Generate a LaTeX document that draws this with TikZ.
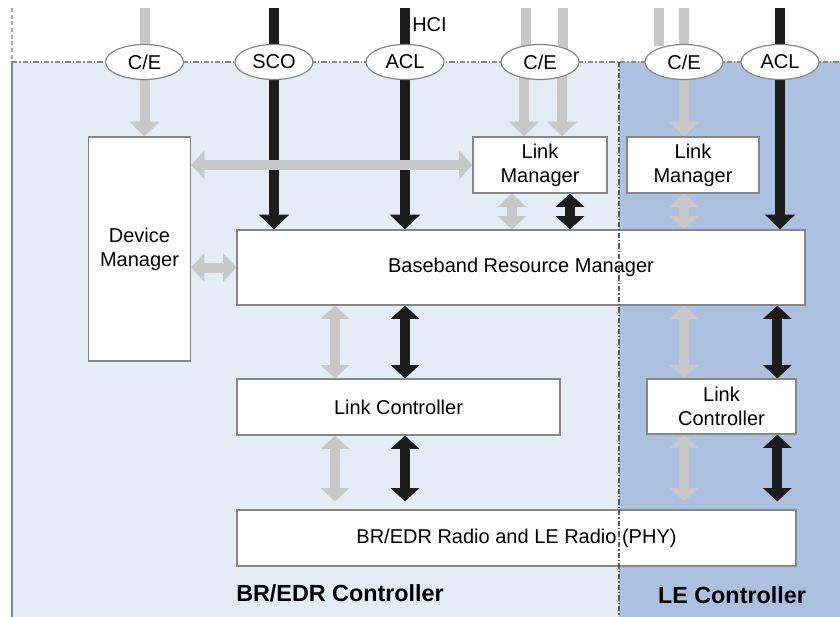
\documentclass[tikz,border=0pt]{standalone}
\usepackage{fontspec}
\setmainfont{Liberation Sans}
\usetikzlibrary{arrows.meta,shapes.geometric}
\definecolor{brfill}{RGB}{229,236,246}
\definecolor{lefill}{RGB}{172,192,224}
\definecolor{flowgray}{RGB}{200,200,200}
\definecolor{flowblack}{RGB}{28,28,28}
\definecolor{edgegray}{RGB}{135,135,135}
\definecolor{divgray}{RGB}{90,90,90}
\pgfdeclarelayer{back}
\pgfdeclarelayer{flow}
\pgfsetlayers{back,flow,main}

\begin{document}
\begin{tikzpicture}[x=0.75pt,y=0.75pt,yscale=-1,xscale=1,
	font=\fontsize{15}{18}\selectfont,
	block/.style={draw=edgegray,line width=0.9pt,fill=white,align=center,inner sep=0pt},
	port/.style={ellipse,draw=edgegray,line width=0.9pt,fill=white,inner sep=0pt,minimum width=58.5pt,minimum height=26.25pt},
	gflow/.style={draw=flowgray,line width=7.5pt},
	bflow/.style={draw=flowblack,line width=7.5pt},
	tipdown/.style={-{Triangle[width=22pt,length=11pt]}},
	tipboth/.style={{Triangle[width=21pt,length=10pt]}-{Triangle[width=21pt,length=10pt]}},
	ctrllabel/.style={font=\fontsize{17.5}{20}\selectfont\bfseries}]
	\useasboundingbox (0,0) rectangle (840,617);
	
	%Shape: Rectangle [id:br_area]
	\begin{pgfonlayer}{back}
	\fill[brfill] (12,62) rectangle (619,617);
	\fill[lefill] (619,62) rectangle (840,617);
	\draw[edgegray,line width=1.5pt] (12,62) -- (12,617);
	\draw[edgegray!70,line width=1pt,dash pattern={on 3pt off 2pt}] (12,8) -- (12,62);
	\draw[edgegray,line width=0.9pt,dash pattern={on 4pt off 1.5pt on 1pt off 1.5pt}] (12,62) -- (840,62);
	\end{pgfonlayer}
	
	%HCI ports
	\node[port] (ce1) at (144.5,62) {C/E};
	\node[port] (sco) at (274,62) {SCO};
	\node[port] (acl) at (405,62) {ACL};
	\node[port] (ce2) at (540,62) {C/E};
	\node[port] (ce3) at (684,62) {C/E};
	\node[port] (acl2) at (780,62) {ACL};
	\coordinate (hci) at (0,8);
	% Text Node
	\node[anchor=west,inner sep=0pt] (hcilabel) at (412,25) {HCI};
	
	%Blocks
	\node[block,minimum width=76.5pt,minimum height=168pt] (dm) at (139.5,249) {Device\\Manager};
	\node[block,minimum width=100.5pt,minimum height=42pt] (lm) at (540,165) {Link\\Manager};
	\node[block,minimum width=99pt,minimum height=42pt] (lelm) at (693,165) {Link\\Manager};
	\node[block,minimum width=426pt,minimum height=56.25pt] (brm) at (521,267.5) {Baseband Resource Manager};
	\node[block,minimum width=242.25pt,minimum height=42pt] (lc) at (398.5,407) {Link Controller};
	\node[block,minimum width=111.75pt,minimum height=41.25pt] (lelc) at (721.5,406.5) {Link\\Controller};
	\node[block,minimum width=419.25pt,minimum height=42pt] (phy) at (516.5,538) {BR/EDR Radio and LE Radio (PHY)};
	
	% Text Node
	\node[ctrllabel] (brlabel) at (340,593) {BR/EDR Controller};
	\node[ctrllabel] (lelabel) at (732,595) {LE Controller};
	
	\begin{pgfonlayer}{flow}
	%Lines from HCI
	\draw[gflow] ([yshift=7.5pt]ce1.north) -- (ce1 |- hci);
	\draw[bflow] (sco.center) -- (sco |- hci);
	\draw[bflow] ([yshift=5.25pt]acl.north) -- (acl |- hci);
	\draw[gflow] ([xshift=-10.5pt,yshift=4.5pt]ce2.north) -- ([xshift=-10.5pt]ce2.north |- hci);
	\draw[gflow] ([xshift=17.25pt]ce2.center) -- ([xshift=17.25pt]ce2.center |- hci);
	\draw[gflow] ([xshift=-18.75pt,yshift=1.5pt]ce3.north) -- ([xshift=-18.75pt]ce3.north |- hci);
	\draw[gflow] (ce3.center) -- (ce3 |- hci);
	
	%Down arrows
	\draw[gflow,tipdown] (ce1.center) -- (ce1 |- dm.north);
	\draw[bflow,tipdown] (sco.center) -- (sco |- brm.north);
	\draw[bflow,tipdown] (acl.center) -- (acl |- brm.north);
	\draw[gflow,tipdown] ([xshift=-12pt]ce2.center) -- ([xshift=-12pt]ce2.center |- lm.north);
	\draw[gflow,tipdown] ([xshift=16.5pt]ce2.center) -- ([xshift=16.5pt]ce2.center |- lm.north);
	\draw[gflow,tipdown] (ce3.center) -- (ce3 |- lelm.north);
	\draw[bflow,tipdown] (acl2 |- hci) -- (acl2 |- brm.north);
	
	%Two-way arrows
	\draw[gflow,tipboth] (lm.west) -- (lm.west -| dm.east);
	\draw[gflow,tipboth] (brm.west) -- (brm.west -| dm.east);
	\draw[gflow,tipboth] ([xshift=-21pt]lm.south) -- ([xshift=-21pt]lm.south |- brm.north);
	\draw[bflow,tipboth] ([xshift=22.5pt]lm.south) -- ([xshift=22.5pt]lm.south |- brm.north);
	\draw[gflow,tipboth] (ce3 |- lelm.south) -- (ce3 |- brm.north);
	\draw[gflow,tipboth] ([xshift=-52.5pt]acl |- brm.south) -- ([xshift=-52.5pt]acl |- lc.north);
	\draw[bflow,tipboth] (acl |- brm.south) -- (acl |- lc.north);
	\draw[gflow,tipboth] (ce3 |- brm.south) -- (ce3 |- lelc.north);
	\draw[bflow,tipboth] ([xshift=-2pt]acl2 |- brm.south) -- ([xshift=-2pt]acl2 |- lelc.north);
	\draw[gflow,tipboth,shorten >=6pt] ([xshift=-52.5pt]acl |- lc.south) -- ([xshift=-52.5pt]acl |- phy.north);
	\draw[bflow,tipboth,shorten >=6pt] (acl |- lc.south) -- (acl |- phy.north);
	\draw[gflow,tipboth,shorten >=6pt] (ce3 |- lelc.south) -- (ce3 |- phy.north);
	\draw[bflow,tipboth,shorten >=6pt] ([xshift=-2pt]acl2 |- lelc.south) -- ([xshift=-2pt]acl2 |- phy.north);
	\end{pgfonlayer}
	
	%Straight Lines [id:divider]
	\draw[divgray,line width=1pt,dash pattern={on 4pt off 1.5pt on 1pt off 1.5pt}] (619,62) -- (619,617);
	
\end{tikzpicture}
\end{document}
